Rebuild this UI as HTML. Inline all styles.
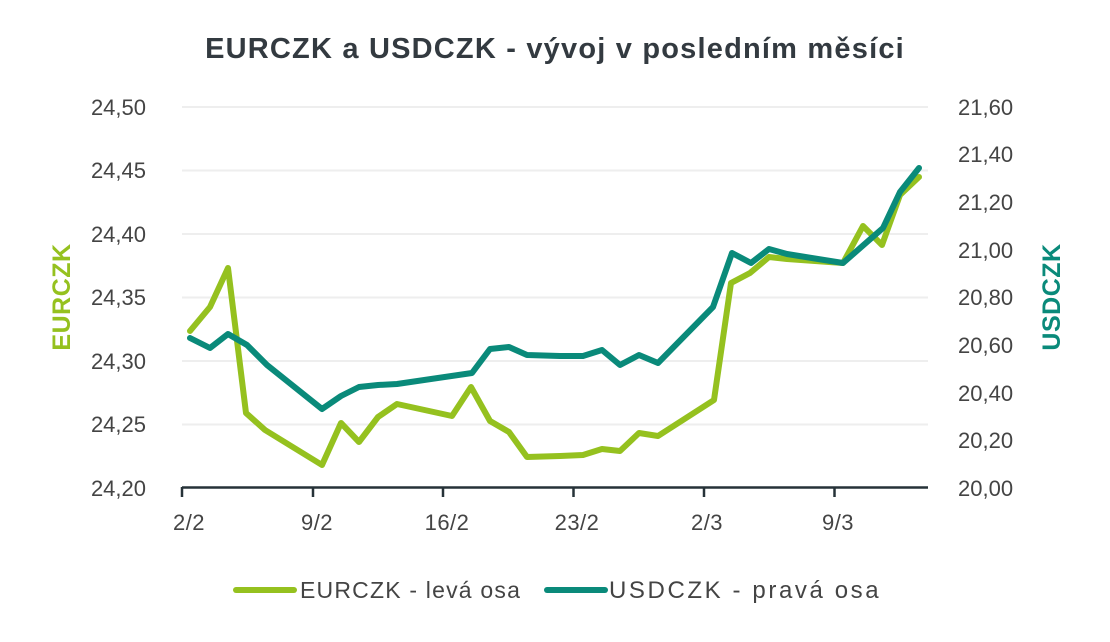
<!DOCTYPE html>
<html><head><meta charset="utf-8"><style>
body{margin:0;background:#fff;}
svg text{font-family:"Liberation Sans",sans-serif;}
</style></head><body>
<svg width="1110" height="637" viewBox="0 0 1110 637" xmlns="http://www.w3.org/2000/svg">
<text x="555" y="58" text-anchor="middle" font-size="29" font-weight="bold" fill="#333a40" letter-spacing="1.2">EURCZK a USDCZK - vývoj v posledním měsíci</text>
<g stroke="#eeeeee" stroke-width="2">
<line x1="182" x2="928" y1="107" y2="107"/><line x1="182" x2="928" y1="170.5" y2="170.5"/>
<line x1="182" x2="928" y1="234" y2="234"/><line x1="182" x2="928" y1="297.5" y2="297.5"/>
<line x1="182" x2="928" y1="361" y2="361"/><line x1="182" x2="928" y1="424.5" y2="424.5"/>
</g>
<line x1="182" x2="928" y1="487.5" y2="487.5" stroke="#263238" stroke-width="2.5"/>
<g stroke="#263238" stroke-width="2.5">
<line x1="182" x2="182" y1="487" y2="497"/><line x1="313" x2="313" y1="487" y2="497"/>
<line x1="443" x2="443" y1="487" y2="497"/><line x1="573.5" x2="573.5" y1="487" y2="497"/>
<line x1="704" x2="704" y1="487" y2="497"/><line x1="834.5" x2="834.5" y1="487" y2="497"/>
</g>
<g font-size="22" fill="#444" text-anchor="middle" letter-spacing="0.5">
<text x="189" y="530">2/2</text><text x="317" y="530">9/2</text><text x="447" y="530">16/2</text>
<text x="577" y="530">23/2</text><text x="707" y="530">2/3</text><text x="838" y="530">9/3</text>
</g>
<g font-size="22" fill="#444" text-anchor="end">
<text x="146" y="115">24,50</text><text x="146" y="178">24,45</text><text x="146" y="242">24,40</text>
<text x="146" y="305">24,35</text><text x="146" y="369">24,30</text><text x="146" y="432">24,25</text>
<text x="146" y="496">24,20</text>
</g>
<g font-size="22" fill="#444" text-anchor="start">
<text x="958" y="115">21,60</text><text x="958" y="162">21,40</text><text x="958" y="210">21,20</text>
<text x="958" y="258">21,00</text><text x="958" y="305">20,80</text><text x="958" y="353">20,60</text>
<text x="958" y="401">20,40</text><text x="958" y="448">20,20</text><text x="958" y="496">20,00</text>
</g>
<text transform="translate(70,297) rotate(-90)" text-anchor="middle" font-size="25" font-weight="bold" fill="#95c11f" letter-spacing="0.5">EURCZK</text>
<text transform="translate(1060,297) rotate(-90)" text-anchor="middle" font-size="25" font-weight="bold" fill="#0a8a7a" letter-spacing="0.5">USDCZK</text>
<polyline fill="none" stroke="#95c11f" stroke-width="6" stroke-linejoin="round" stroke-linecap="round" points="190,331 210,307 228,268 246,413 265,430 322,465 341,423 359,442 378,417 397,404 452,416 471,387 490,421 509,432 527,457 560,456 583,455 602,449 620,451 639,433 658,436 714,400 731,283 750,273 769,257 787,259 843,263 863,226 882,245 900,195 919,177"/>
<polyline fill="none" stroke="#0a8a7a" stroke-width="6" stroke-linejoin="round" stroke-linecap="round" points="190,338 210,348 228,334 247,345 267,365 322,409 341,396 359,387 378,385 397,384 472,373 490,349 509,347 527,355 560,356 583,356 602,350 620,365 639,355 658,363 713,307 732,253 751,263 769,249 787,254 843,263 883,228 900,192 919,168"/>
<line x1="236" x2="294" y1="590" y2="590" stroke="#95c11f" stroke-width="6" stroke-linecap="round"/>
<text x="300" y="598" font-size="23" fill="#444" letter-spacing="1.2">EURCZK - levá osa</text>
<line x1="547" x2="605" y1="590" y2="590" stroke="#0a8a7a" stroke-width="6" stroke-linecap="round"/>
<text x="609" y="598" font-size="24" fill="#444" letter-spacing="2.6">USDCZK - pravá osa</text>
</svg>
</body></html>
